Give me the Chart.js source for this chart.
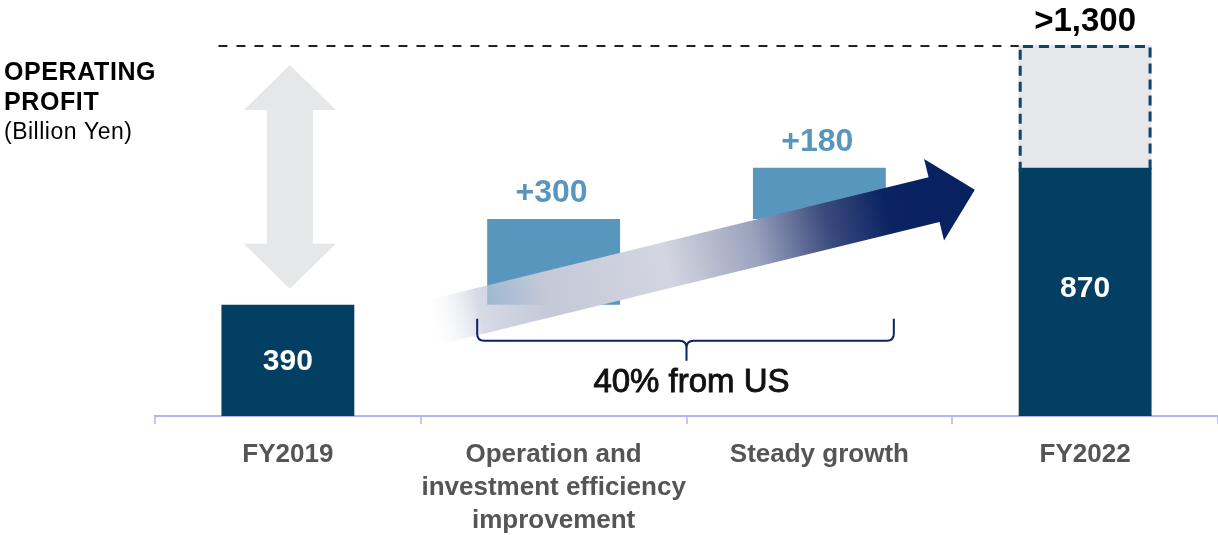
<!DOCTYPE html>
<html>
<head>
<meta charset="utf-8">
<script src="https://cdn.jsdelivr.net/npm/chart.js@4.4.1/dist/chart.umd.min.js"></script>
<style>
  html, body { margin: 0; padding: 0; background: #fff; }
  #wrap { width: 1218px; height: 535px; position: relative; }
</style>
</head>
<body>
<div id="wrap"><canvas id="chart"></canvas></div>
<script>
// Waterfall data (billion yen)
const categories = [['FY2019'], ['Operation and', 'investment efficiency', 'improvement'], ['Steady growth'], ['FY2022']];
const barStart = [0, 390, 690, 0];
const barEnd = [390, 690, 870, 870];
const barLabels = ['390', '+300', '+180', '870'];
const targetValue = 1300;
const targetLabel = '>1,300';

const NAVY = '#023f63';
const STEEL = '#5896bd';
const GREY = '#e6e7e9';
const FONT = "'Liberation Sans', Arial, sans-serif";

const decor = {
    id: 'decor',
    afterDatasetsDraw(chart) {
        const { ctx, scales: { x, y } } = chart;
        const bars = chart.getDatasetMeta(0).data;
        const box = chart.getDatasetMeta(1).data[3];
        const catW = x.getPixelForValue(1) - x.getPixelForValue(0);
        ctx.save();

        // black dashed target line
        const topY = y.getPixelForValue(targetValue);
        const boxL = box.x - box.width / 2, boxR = box.x + box.width / 2;
        ctx.strokeStyle = '#222';
        ctx.lineWidth = 2;
        ctx.setLineDash([9, 9]);
        ctx.beginPath();
        ctx.moveTo(bars[0].x - bars[0].width / 2 - 3, topY + 1);
        ctx.lineTo(boxL, topY + 1);
        ctx.stroke();

        // dashed outline of the target box
        ctx.strokeStyle = '#0d4468';
        ctx.lineWidth = 3;
        ctx.setLineDash([10, 6]);
        ctx.beginPath();
        ctx.moveTo(boxL + 1.5, box.base + 4);
        ctx.lineTo(boxL + 1.5, topY + 1.5);
        ctx.lineTo(boxR - 1.5, topY + 1.5);
        ctx.lineTo(boxR - 1.5, box.base + 4);
        ctx.stroke();
        ctx.setLineDash([]);

        // grey double arrow over FY2019
        const ax = bars[0].x + 2;
        const aTop = topY + 20, aBot = y.getPixelForValue(barEnd[0]) - 16;
        const hw = 46, sw = 23, hl = 45;
        ctx.fillStyle = GREY;
        ctx.beginPath();
        ctx.moveTo(ax, aTop);
        ctx.lineTo(ax + hw, aTop + hl);
        ctx.lineTo(ax + sw, aTop + hl);
        ctx.lineTo(ax + sw, aBot - hl);
        ctx.lineTo(ax + hw, aBot - hl);
        ctx.lineTo(ax, aBot);
        ctx.lineTo(ax - hw, aBot - hl);
        ctx.lineTo(ax - sw, aBot - hl);
        ctx.lineTo(ax - sw, aTop + hl);
        ctx.lineTo(ax - hw, aTop + hl);
        ctx.closePath();
        ctx.fill();

        // gradient growth arrow
        const sx = bars[0].x + 0.52 * catW, sy = y.getPixelForValue(322);
        const tx = bars[2].x + 0.585 * catW, ty = y.getPixelForValue(793);
        const len = Math.hypot(tx - sx, ty - sy);
        const dx = (tx - sx) / len, dy = (ty - sy) / len;
        const nx = -dy, ny = dx;
        const shaft = 23, head = 42, headLen = 42;
        const bx = tx - dx * headLen, by = ty - dy * headLen;
        const grad = ctx.createLinearGradient(sx, sy, tx, ty);
        grad.addColorStop(0, 'rgba(255,255,255,0)');
        grad.addColorStop(0.1, 'rgba(192,198,215,0.65)');
        grad.addColorStop(0.22, '#c4c9d8');
        grad.addColorStop(0.44, '#d3d6e0');
        grad.addColorStop(0.6, '#9aa2bd');
        grad.addColorStop(0.73, '#3c4b7e');
        grad.addColorStop(0.84, '#0b2363');
        grad.addColorStop(1, '#07205e');
        ctx.fillStyle = grad;
        ctx.beginPath();
        ctx.moveTo(sx + nx * shaft, sy + ny * shaft);
        ctx.lineTo(bx + nx * shaft, by + ny * shaft);
        ctx.lineTo(bx + nx * head, by + ny * head);
        ctx.lineTo(tx, ty);
        ctx.lineTo(bx - nx * head, by - ny * head);
        ctx.lineTo(bx - nx * shaft, by - ny * shaft);
        ctx.lineTo(sx - nx * shaft, sy - ny * shaft);
        ctx.closePath();
        ctx.fill();

        // brace under the two increments
        const L = bars[1].x - bars[1].width / 2 - 10, R = bars[2].x + bars[2].width / 2 + 8;
        const M = (bars[1].x + bars[2].x) / 2;
        const bTop = y.getPixelForValue(barStart[1]) + 14, H = bTop + 22, tip = H + 20, r = 7;
        ctx.strokeStyle = '#0a2260';
        ctx.lineWidth = 2;
        ctx.beginPath();
        ctx.moveTo(L, bTop);
        ctx.lineTo(L, H - r);
        ctx.quadraticCurveTo(L, H, L + r, H);
        ctx.lineTo(M - r, H);
        ctx.quadraticCurveTo(M, H, M, H + r);
        ctx.lineTo(M, tip);
        ctx.moveTo(M, H + r);
        ctx.quadraticCurveTo(M, H, M + r, H);
        ctx.lineTo(R - r, H);
        ctx.quadraticCurveTo(R, H, R, H - r);
        ctx.lineTo(R, bTop);
        ctx.stroke();

        ctx.fillStyle = '#111';
        ctx.strokeStyle = '#111';
        ctx.lineWidth = 0.9;
        ctx.font = `33px ${FONT}`;
        ctx.textAlign = 'center';
        ctx.textBaseline = 'middle';
        ctx.fillText('40% from US', M + 5, tip + 22);
        ctx.strokeText('40% from US', M + 5, tip + 22);

        // bar value labels
        bars.forEach((b, i) => {
            if (i === 0 || i === 3) {
                ctx.fillStyle = '#fff';
                ctx.font = `bold 30px ${FONT}`;
                const off = i === 0 ? 1 : -3;
                ctx.fillText(barLabels[i], b.x, (b.y + b.base) / 2 + off);
            } else {
                ctx.fillStyle = STEEL;
                ctx.font = `bold 32px ${FONT}`;
                ctx.fillText(barLabels[i], b.x - 2, b.y - 26);
            }
        });
        ctx.fillStyle = '#000';
        ctx.font = `bold 33px ${FONT}`;
        ctx.fillText(targetLabel, box.x, topY - 23);

        // axis title
        ctx.textAlign = 'left';
        ctx.textBaseline = 'alphabetic';
        ctx.letterSpacing = '0.6px';
        ctx.font = `bold 25px ${FONT}`;
        ctx.fillText('OPERATING', 4, 80);
        ctx.fillText('PROFIT', 4, 110);
        ctx.font = `23px ${FONT}`;
        ctx.letterSpacing = '0.5px';
        ctx.fillText('(Billion Yen)', 4, 139);
        ctx.restore();
    }
};

new Chart(document.getElementById('chart'), {
    type: 'bar',
    data: {
        labels: categories,
        datasets: [
            {
                data: categories.map((_, i) => [barStart[i], barEnd[i]]),
                backgroundColor: [NAVY, STEEL, STEEL, NAVY],
                barPercentage: 0.5,
                categoryPercentage: 1,
                grouped: false,
                order: 1
            },
            {
                data: categories.map((_, i) => i === 3 ? [barEnd[i], targetValue] : null),
                backgroundColor: GREY,
                barPercentage: 0.5,
                categoryPercentage: 1,
                grouped: false,
                order: 2
            }
        ]
    },
    options: {
        responsive: true,
        maintainAspectRatio: false,
        animation: false,
        layout: { padding: { left: 155, top: 45, right: 0, bottom: 0 } },
        plugins: { legend: { display: false }, tooltip: { enabled: false } },
        scales: {
            x: {
                afterFit: (scale) => { scale.height = 119; },
                border: { display: true, color: '#b3b5f2', width: 2 },
                grid: { display: true, drawOnChartArea: false, drawTicks: true, tickLength: 8, color: '#c4c6f4', lineWidth: 2 },
                ticks: {
                    color: '#555',
                    padding: 14,
                    maxRotation: 0,
                    autoSkip: false,
                    font: { family: FONT, size: 26, weight: 'bold', lineHeight: 1.28 }
                }
            },
            y: { display: false, min: 0, max: targetValue }
        }
    },
    plugins: [decor]
});
</script>
</body>
</html>
